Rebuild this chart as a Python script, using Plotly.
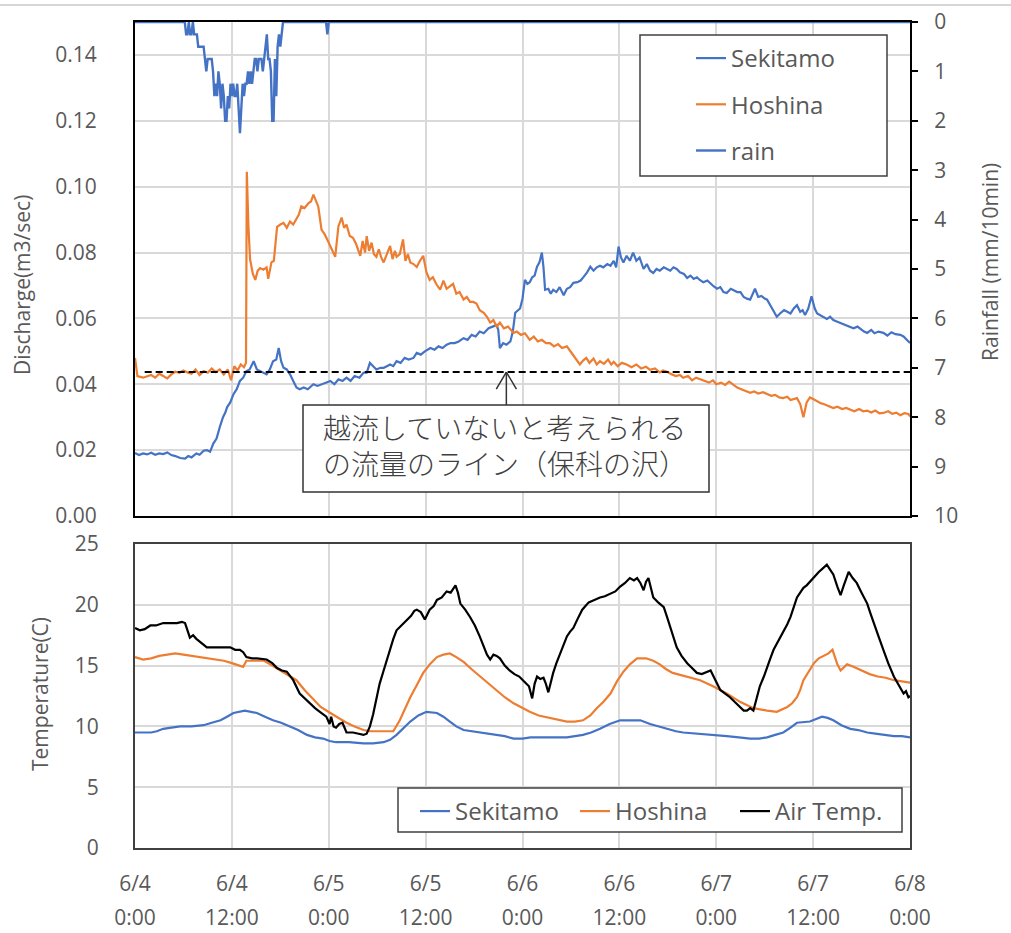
import plotly.graph_objects as go

# ---------------- data (time in hours from 6/4 0:00) ----------------
tick_hours = [0, 12, 24, 36, 48, 60, 72, 84, 96]
tick_dates = ["6/4", "6/4", "6/5", "6/5", "6/6", "6/6", "6/7", "6/7", "6/8"]
tick_times = ["0:00", "12:00", "0:00", "12:00", "0:00", "12:00", "0:00", "12:00", "0:00"]

# rainfall (mm/10min), 10-minute record during the storm
rain_start = 6.167
rain_burst = [0, 0.25, 0.25, 0, 0.25, 0.25, 0, 0.25, 0.25, 0.25, 0.5, 0.5, 0.5, 0.5, 0.5, 0.75, 1.0,
              0.75, 0.75, 0.75, 0.75, 1.0, 1.5, 1.25, 1.5, 1.0, 1.25, 1.75, 1.25, 1.5, 2.0, 2.0, 1.5,
              1.75, 1.25, 1.5, 1.25, 1.5, 1.5, 1.25, 1.75, 2.25, 1.75, 1.25, 1.5, 1.25, 1.25, 1.0, 1.25,
              1.0, 1.25, 1.0, 0.75, 0.75, 1.0, 0.75, 0.75, 0.75, 1.0, 0.75, 0.5, 0.25, 0.75, 0.75, 1.0,
              2.0, 2.0, 0.75, 1.5, 0.5, 0.25, 0.5, 0.25, 0]
rain_extra_hours = [23.667, 23.833, 24.0, 96.0]
rain_extra_vals = [0, 0.25, 0, 0]

sek_q_t = [0.0, 0.5, 1.0, 1.5, 2.0, 2.5, 3.0, 3.5, 4.0, 4.5, 5.0, 5.6, 6.2, 6.6, 7.0, 7.6, 8.0, 8.5, 8.9, 9.3,
           9.7, 10.1, 10.5, 10.9, 11.2, 11.4, 11.8, 12.2, 12.6, 13.0, 13.4, 13.8, 14.2, 14.7, 15.1, 15.5,
           15.9, 16.3, 16.7, 17.1, 17.5, 17.8, 18.1, 18.4, 18.8, 19.2, 19.6, 20.0, 20.4, 20.9, 21.4, 21.8,
           22.1, 22.6, 23.1, 23.6, 24.2, 24.7, 25.2, 25.7, 26.2, 26.7, 27.2, 27.8, 28.3, 28.7, 29.1, 29.5,
           29.9, 30.4, 30.8, 31.2, 31.6, 32.0, 32.4, 32.9, 33.4, 33.9, 34.5, 34.9, 35.4, 35.9, 36.6, 37.1,
           37.6, 38.1, 38.6, 39.1, 39.6, 40.1, 40.7, 41.2, 41.7, 42.2, 42.7, 43.2, 43.8, 44.3, 44.8, 45.0,
           45.2, 45.6, 46.0, 46.5, 46.8, 47.1, 47.5, 47.7, 48.0, 48.3, 48.6, 48.9, 49.2, 49.5, 49.8, 50.1,
           50.4, 50.6, 50.8, 51.2, 51.5, 51.8, 52.2, 52.6, 53.1, 53.5, 53.9, 54.3, 54.8, 55.2, 55.6, 56.0,
           56.4, 56.8, 57.2, 57.6, 58.0, 58.5, 58.9, 59.3, 59.6, 59.9, 60.2, 60.5, 60.9, 61.3, 61.7, 62.1,
           62.5, 63.0, 63.4, 63.8, 64.2, 64.6, 65.0, 65.5, 65.9, 66.3, 66.7, 67.1, 67.5, 68.0, 68.4, 68.8,
           69.2, 69.6, 70.0, 70.4, 70.9, 71.3, 71.7, 72.1, 72.5, 72.9, 73.3, 73.8, 74.2, 74.6, 75.0, 75.4,
           75.8, 76.2, 76.8, 77.2, 77.6, 78.0, 78.3, 78.7, 79.1, 79.5, 79.9, 80.4, 80.8, 81.2, 81.6, 82.0,
           82.4, 82.7, 83.0, 83.4, 83.8, 84.2, 84.5, 84.9, 85.3, 85.7, 86.1, 86.5, 87.0, 87.5, 88.0, 88.6,
           89.0, 89.5, 90.0, 90.3, 90.7, 91.2, 91.6, 92.1, 92.7, 93.2, 93.7, 94.2, 94.8, 95.2, 95.6, 96.0]
sek_q = [0.0191, 0.0185, 0.019, 0.0187, 0.0192, 0.0186, 0.019, 0.0188, 0.0193, 0.0185, 0.0182, 0.0176,
         0.0174, 0.0182, 0.0178, 0.019, 0.0186, 0.0198, 0.020, 0.0195, 0.022, 0.0235, 0.027, 0.030, 0.0315,
         0.033, 0.0345, 0.037, 0.0385, 0.041, 0.042, 0.044, 0.0445, 0.047, 0.0445, 0.044, 0.0435, 0.043,
         0.0445, 0.047, 0.0475, 0.051, 0.047, 0.045, 0.0445, 0.043, 0.041, 0.039, 0.0385, 0.039, 0.0385,
         0.0395, 0.040, 0.0395, 0.040, 0.0405, 0.041, 0.040, 0.0415, 0.041, 0.042, 0.041, 0.0425, 0.042,
         0.0435, 0.0435, 0.0465, 0.0455, 0.0445, 0.045, 0.045, 0.0455, 0.046, 0.0455, 0.047, 0.0465, 0.048,
         0.0475, 0.048, 0.0495, 0.049, 0.050, 0.051, 0.0505, 0.0515, 0.051, 0.052, 0.0525, 0.0525, 0.053,
         0.054, 0.0535, 0.055, 0.0545, 0.056, 0.0555, 0.057, 0.0575, 0.058, 0.0565, 0.051, 0.0525, 0.052,
         0.053, 0.056, 0.0617, 0.0625, 0.063, 0.066, 0.0717, 0.0705, 0.071, 0.0725, 0.073, 0.0757, 0.077,
         0.080, 0.0755, 0.0687, 0.069, 0.0675, 0.0687, 0.068, 0.0695, 0.067, 0.069, 0.0695, 0.0708, 0.071,
         0.0715, 0.0727, 0.074, 0.0757, 0.0745, 0.0755, 0.076, 0.0755, 0.0765, 0.076, 0.0775, 0.0755,
         0.0818, 0.0785, 0.077, 0.079, 0.0775, 0.080, 0.0775, 0.0785, 0.075, 0.0765, 0.0745, 0.0738, 0.075,
         0.0745, 0.0755, 0.075, 0.0745, 0.0755, 0.075, 0.074, 0.0735, 0.0723, 0.073, 0.072, 0.0725, 0.0716,
         0.071, 0.0715, 0.0705, 0.0697, 0.069, 0.0695, 0.068, 0.0677, 0.069, 0.0685, 0.068, 0.068, 0.0665,
         0.066, 0.0657, 0.069, 0.0665, 0.0668, 0.066, 0.0657, 0.064, 0.062, 0.0605, 0.0615, 0.0625, 0.062,
         0.0615, 0.063, 0.064, 0.062, 0.0625, 0.061, 0.063, 0.0667, 0.063, 0.0615, 0.061, 0.0605, 0.0598,
         0.0605, 0.0595, 0.059, 0.0585, 0.058, 0.0575, 0.057, 0.0575, 0.0565, 0.056, 0.0556, 0.0565, 0.0555,
         0.056, 0.0556, 0.0548, 0.0558, 0.0552, 0.055, 0.0545, 0.0535, 0.0525]

hos_q_t = [0.0, 0.3, 1.0, 1.5, 2.0, 2.5, 3.0, 3.5, 4.0, 4.5, 5.0, 5.5, 6.0, 6.5, 7.0, 7.5, 8.0, 8.5, 9.0, 9.5,
           10.0, 10.5, 11.0, 11.5, 11.9, 12.3, 12.7, 13.1, 13.5, 13.75, 13.85, 14.05, 14.25, 14.6, 14.9,
           15.2, 15.5, 15.9, 16.3, 16.5, 16.9, 17.2, 17.6, 18.0, 18.4, 18.8, 19.2, 19.6, 20.0, 20.3, 20.6,
           21.0, 21.5, 21.8, 22.1, 22.4, 22.7, 23.1, 23.5, 23.9, 24.2, 24.5, 24.8, 25.2, 25.6, 25.9, 26.2,
           26.6, 27.0, 27.4, 27.9, 28.2, 28.5, 28.7, 29.0, 29.3, 29.6, 29.9, 30.2, 30.5, 30.8, 31.2, 31.6,
           31.9, 32.2, 32.4, 32.8, 33.2, 33.5, 33.8, 34.1, 34.5, 34.9, 35.3, 35.7, 36.1, 36.5, 36.9, 37.3,
           37.8, 38.2, 38.6, 39.0, 39.4, 39.8, 40.2, 40.7, 41.1, 41.5, 41.9, 42.3, 42.7, 43.2, 43.6, 44.0,
           44.4, 44.8, 45.2, 45.7, 46.2, 46.9, 47.3, 47.8, 48.3, 48.9, 49.4, 49.9, 50.4, 50.9, 51.4, 51.9,
           52.4, 52.9, 53.5, 54.0, 54.6, 55.1, 55.5, 55.9, 56.3, 56.8, 57.2, 57.6, 58.1, 58.6, 59.0, 59.3,
           59.8, 60.3, 60.9, 61.5, 62.1, 62.7, 63.3, 63.8, 64.4, 65.0, 65.4, 65.9, 66.5, 67.0, 67.5, 67.9,
           68.5, 69.0, 69.5, 70.0, 70.6, 71.1, 71.6, 72.0, 72.6, 73.1, 73.6, 74.1, 74.6, 75.1, 75.6, 76.2,
           76.7, 77.2, 77.8, 78.3, 78.8, 79.3, 79.8, 80.3, 80.8, 81.2, 81.6, 82.0, 82.4, 82.8, 83.2, 83.6,
           84.0, 84.5, 85.0, 85.3, 85.8, 86.5, 87.0, 87.6, 88.1, 88.6, 89.1, 89.7, 90.2, 90.7, 91.2, 91.7,
           92.2, 92.7, 93.3, 93.8, 94.3, 94.8, 95.3, 95.8, 96.0]
hos_q = [0.048, 0.0425, 0.042, 0.0425, 0.0428, 0.042, 0.0432, 0.0425, 0.0418, 0.043, 0.0438, 0.0435, 0.0442,
         0.0436, 0.0432, 0.0445, 0.0428, 0.044, 0.0435, 0.0448, 0.0437, 0.0445, 0.043, 0.0445, 0.0412,
         0.0455, 0.0442, 0.046, 0.0452, 0.0465, 0.1045, 0.088, 0.078, 0.0735, 0.0717, 0.0745, 0.0753,
         0.0748, 0.0755, 0.072, 0.077, 0.0775, 0.0878, 0.0885, 0.089, 0.0875, 0.0894, 0.0885, 0.090, 0.0915,
         0.094, 0.0935, 0.095, 0.0955, 0.0976, 0.0955, 0.094, 0.087, 0.0855, 0.0835, 0.0818, 0.0805, 0.0787,
         0.088, 0.0906, 0.0875, 0.0885, 0.085, 0.0845, 0.0825, 0.079, 0.0835, 0.080, 0.085, 0.0805, 0.083,
         0.0795, 0.0787, 0.081, 0.0785, 0.077, 0.0795, 0.082, 0.078, 0.0805, 0.0787, 0.0795, 0.084, 0.0775,
         0.0795, 0.077, 0.0765, 0.0756, 0.0775, 0.079, 0.074, 0.0717, 0.0725, 0.0705, 0.0687, 0.0715, 0.069,
         0.0697, 0.0705, 0.0675, 0.068, 0.0657, 0.0665, 0.065, 0.065, 0.0645, 0.0625, 0.0617, 0.0605, 0.0587,
         0.0595, 0.0575, 0.0587, 0.057, 0.0575, 0.0556, 0.056, 0.055, 0.0555, 0.0535, 0.0545, 0.053, 0.0535,
         0.0525, 0.0525, 0.0515, 0.0522, 0.051, 0.0515, 0.0498, 0.0475, 0.046, 0.0472, 0.048, 0.0465, 0.0478,
         0.046, 0.047, 0.0462, 0.0475, 0.046, 0.0468, 0.0455, 0.0465, 0.046, 0.0452, 0.046, 0.0448, 0.0453,
         0.0444, 0.0448, 0.0436, 0.0442, 0.0438, 0.043, 0.0425, 0.0428, 0.042, 0.0425, 0.0412, 0.042, 0.0416,
         0.041, 0.0405, 0.0412, 0.040, 0.0405, 0.0398, 0.0408, 0.040, 0.039, 0.0385, 0.038, 0.0374, 0.0378,
         0.0372, 0.0376, 0.037, 0.0365, 0.0368, 0.036, 0.0358, 0.0362, 0.0352, 0.0355, 0.0358, 0.034, 0.030,
         0.0345, 0.036, 0.0355, 0.0348, 0.0342, 0.034, 0.0335, 0.0328, 0.0332, 0.0325, 0.0328, 0.0323,
         0.0318, 0.0325, 0.0318, 0.032, 0.0314, 0.032, 0.0312, 0.0313, 0.0318, 0.031, 0.0314, 0.0306,
         0.0312, 0.031, 0.0302]

threshold_q = 0.0437
threshold_span = [1.2, 96.0]

air_t_t = [0.0, 0.6, 1.2, 1.9, 2.6, 3.5, 4.5, 5.2, 5.8, 6.2, 6.8, 7.2, 7.6, 8.1, 8.9, 10.0, 11.0, 11.8, 12.4,
           13.0, 13.4, 13.8, 14.5, 15.1, 16.3, 17.0, 17.6, 18.2, 18.8, 19.6, 20.4, 21.0, 21.7, 22.3, 22.9,
           23.3, 23.7, 24.1, 24.3, 24.6, 24.9, 25.3, 25.7, 26.2, 27.0, 27.7, 28.3, 28.7, 29.1, 29.5, 29.9,
           30.3, 30.8, 31.2, 31.6, 32.0, 32.4, 33.0, 33.7, 34.2, 34.6, 34.9, 35.4, 35.9, 36.5, 37.0, 37.4,
           38.0, 38.6, 39.1, 39.7, 40.0, 40.3, 40.9, 41.5, 42.1, 42.7, 43.2, 43.6, 44.0, 44.4, 44.8, 45.2,
           45.8, 46.4, 47.0, 47.6, 48.2, 48.8, 49.2, 49.5, 49.8, 50.2, 50.6, 50.9, 51.2, 51.5, 51.8, 52.2,
           52.7, 53.1, 53.5, 53.9, 54.3, 54.8, 55.4, 55.8, 56.2, 56.9, 57.6, 58.2, 58.9, 59.5, 60.1, 60.7,
           61.3, 61.8, 62.2, 62.6, 63.0, 63.3, 63.6, 63.9, 64.2, 64.8, 65.5, 65.9, 66.3, 66.7, 67.1, 67.7,
           68.4, 69.0, 69.6, 70.2, 70.8, 71.3, 71.9, 72.5, 73.1, 73.7, 74.3, 75.0, 75.4, 75.8, 76.2, 76.6,
           77.0, 77.4, 77.9, 78.3, 78.7, 79.1, 79.7, 80.3, 80.8, 81.2, 81.6, 82.0, 82.4, 82.8, 83.2, 83.6,
           84.2, 84.7, 85.2, 85.7, 86.1, 86.5, 87.0, 87.4, 87.8, 88.4, 88.9, 89.4, 90.0, 90.7, 91.1, 91.5,
           92.1, 92.7, 93.3, 94.0, 94.6, 95.2, 95.5, 95.8, 96.0]
air_t = [18.1, 17.9, 18.0, 18.3, 18.3, 18.5, 18.5, 18.5, 18.6, 18.5, 17.3, 17.5, 17.2, 16.9, 16.5, 16.5,
         16.5, 16.5, 16.3, 16.3, 16.1, 15.7, 15.6, 15.6, 15.5, 15.2, 14.8, 14.6, 14.5, 13.8, 12.7, 12.3,
         11.9, 11.5, 11.2, 11.0, 10.8, 10.2, 10.8, 10.0, 9.9, 10.2, 10.3, 9.5, 9.5, 9.4, 9.3, 9.4, 10.0,
         11.0, 12.2, 13.5, 14.6, 15.5, 16.3, 17.2, 17.9, 18.3, 18.8, 19.1, 19.5, 19.6, 19.4, 18.8, 19.6,
         19.9, 20.4, 20.6, 21.1, 21.0, 21.6, 21.0, 20.1, 19.6, 19.0, 18.3, 17.4, 16.6, 15.9, 15.5, 15.9,
         15.8, 15.6, 15.0, 14.6, 14.3, 14.1, 13.7, 13.3, 12.3, 13.5, 14.1, 13.9, 14.0, 13.5, 12.8, 13.6,
         14.4, 15.2, 16.0, 16.8, 17.4, 17.8, 18.1, 18.8, 19.6, 19.9, 20.2, 20.4, 20.6, 20.7, 20.9, 21.1,
         21.5, 21.8, 22.2, 22.0, 22.2, 21.8, 21.2, 21.9, 22.2, 21.4, 20.6, 20.2, 19.8, 19.0, 18.2, 17.4,
         16.5, 15.8, 15.2, 14.8, 14.4, 14.3, 14.5, 14.6, 13.8, 13.0, 12.7, 12.4, 12.0, 11.6, 11.3, 11.3,
         11.5, 11.3, 12.2, 13.3, 14.1, 14.9, 15.6, 16.3, 17.0, 17.7, 18.4, 19.0, 19.8, 20.6, 21.0, 21.4,
         21.6, 21.9, 22.3, 22.7, 23.0, 23.3, 22.9, 22.5, 21.5, 20.8, 21.6, 22.7, 22.2, 21.8, 21.0, 20.1,
         19.3, 18.5, 17.4, 16.3, 15.2, 14.1, 13.4, 12.7, 12.9, 12.4, 12.5]

hos_t_t = [0, 1, 2, 3, 4, 5, 6, 7, 8, 9, 10, 11, 12, 12.8, 13.4, 13.8, 15, 16, 17, 18, 19, 20, 21, 22.1, 23,
           24.2, 25.2, 26.2, 27.2, 28.3, 29.1, 30, 31, 32, 32.8, 33.5, 34.1, 35, 35.7, 36.5, 37.4, 38.2, 39,
           39.8, 40.7, 41.7, 42.8, 43.8, 44.8, 45.8, 46.9, 48, 48.9, 50, 51.4, 52.5, 53.5, 54.5, 55.5, 56.4,
           57.2, 58, 58.9, 59.7, 60.5, 61.3, 62.2, 63.3, 64.2, 65, 65.8, 66.6, 68.3, 70, 71.6, 73.3, 75, 76.6,
           78.3, 79.5, 80.8, 81.4, 82, 82.4, 82.8, 83.5, 84.1, 84.7, 85.3, 85.9, 86.4, 86.8, 87.0, 87.4, 88.2,
           89.0, 89.9, 91, 92, 93, 94, 95, 96]
hos_t = [15.7, 15.5, 15.6, 15.8, 15.9, 16.0, 15.9, 15.8, 15.7, 15.6, 15.5, 15.4, 15.2, 15.0, 14.9, 15.4,
         15.4, 15.4, 15.0, 14.6, 14.2, 13.8, 13.0, 12.2, 11.6, 11.1, 10.7, 10.3, 10.0, 9.7, 9.6, 9.6, 9.6,
         9.6, 10.5, 11.5, 12.4, 13.5, 14.4, 15.1, 15.7, 15.9, 16.0, 15.7, 15.3, 14.7, 14.1, 13.5, 13.0, 12.4,
         11.9, 11.5, 11.2, 10.9, 10.7, 10.5, 10.4, 10.4, 10.5, 10.9, 11.5, 12.0, 12.7, 13.7, 14.5, 15.1,
         15.6, 15.6, 15.4, 15.1, 14.7, 14.4, 14.1, 13.8, 13.3, 12.7, 12.0, 11.5, 11.3, 11.2, 11.6, 11.9,
         12.4, 13.0, 13.8, 14.6, 15.2, 15.6, 15.8, 16.0, 16.3, 15.6, 15.1, 14.6, 15.1, 14.9, 14.6, 14.3,
         14.1, 14.0, 13.8, 13.7, 13.6]

sek_t_t = [0, 1, 2, 2.7, 3.5, 4.5, 5.6, 7, 8.5, 9.5, 10.6, 11.4, 12.2, 13.6, 14.4, 15.1, 16.1, 17.1, 18.1,
           19.2, 20.2, 21.3, 22.3, 23.3, 24.1, 24.9, 26.5, 28.3, 29.5, 30.8, 31.6, 32.4, 33.2, 34.1, 35.1,
           36.1, 37.4, 38.2, 39, 39.8, 40.7, 41.7, 42.7, 43.8, 44.8, 45.8, 46.9, 48, 49, 51, 53.5, 54.5,
           55.5, 56.5, 57.6, 58.8, 60.1, 61.5, 62.6, 63.8, 64.8, 65.9, 67, 67.9, 70, 71.6, 73.3, 74.8, 76.2,
           77.3, 78.3, 79.3, 80.3, 81.2, 82, 83.6, 84.4, 85.1, 85.8, 86.5, 87.5, 88.6, 89.6, 90.7, 91.7,
           92.7, 94, 95, 95.8, 96]
sek_t = [9.5, 9.5, 9.5, 9.6, 9.8, 9.9, 10.0, 10.0, 10.1, 10.3, 10.5, 10.8, 11.1, 11.3, 11.2, 11.1, 10.8,
         10.5, 10.3, 10.0, 9.7, 9.3, 9.1, 9.0, 8.8, 8.7, 8.7, 8.6, 8.6, 8.7, 8.9, 9.3, 9.8, 10.4, 10.9,
         11.2, 11.1, 10.8, 10.4, 10.0, 9.7, 9.6, 9.5, 9.4, 9.3, 9.2, 9.0, 9.0, 9.1, 9.1, 9.1, 9.2, 9.3, 9.5,
         9.8, 10.2, 10.5, 10.5, 10.5, 10.2, 10.0, 9.8, 9.6, 9.5, 9.4, 9.3, 9.2, 9.1, 9.0, 9.0, 9.1, 9.3,
         9.5, 9.9, 10.3, 10.4, 10.6, 10.8, 10.7, 10.5, 10.1, 9.8, 9.7, 9.5, 9.4, 9.3, 9.2, 9.2, 9.1, 9.1]

note_text = "越流していないと考えられる<br>の流量のライン（保科の沢）"

# ---------------- layout helpers ----------------
W, H = 1011, 933
L, R, T, B = 135, 910, 22, 848


def px_x(x):
    return (x - L) / (R - L)


def px_y(y):
    return (B - y) / (B - T)


BLUE = "#4472C4"
ORANGE = "#ED7D31"
GRID = "#d9d9d9"
TXT = "#595959"
FONT = "Open Sans"

rain_hours = [0.0] + [rain_start + i / 6 for i in range(len(rain_burst))] + rain_extra_hours
rain_vals = [0] + rain_burst + rain_extra_vals

fig = go.Figure()
fig.add_trace(go.Scatter(x=sek_q_t, y=sek_q, name="Sekitamo", mode="lines",
                         line=dict(color=BLUE, width=2.2), xaxis="x", yaxis="y",
                         legend="legend", legendgroup="a"))
fig.add_trace(go.Scatter(x=hos_q_t, y=hos_q, name="Hoshina", mode="lines",
                         line=dict(color=ORANGE, width=2.2), xaxis="x", yaxis="y",
                         legend="legend", legendgroup="b"))
fig.add_trace(go.Scatter(x=threshold_span, y=[threshold_q, threshold_q], mode="lines", showlegend=False,
                         line=dict(color="black", width=2, dash="7px,4px"), xaxis="x", yaxis="y"))
fig.add_trace(go.Scatter(x=rain_hours, y=rain_vals, name="rain", mode="lines",
                         line=dict(color=BLUE, width=2.4), xaxis="x", yaxis="y3",
                         legend="legend", legendgroup="c"))

fig.add_trace(go.Scatter(x=sek_t_t, y=sek_t, name="Sekitamo", mode="lines",
                         line=dict(color=BLUE, width=2.2), xaxis="x2", yaxis="y2", legend="legend2"))
fig.add_trace(go.Scatter(x=hos_t_t, y=hos_t, name="Hoshina", mode="lines",
                         line=dict(color=ORANGE, width=2.2), xaxis="x2", yaxis="y2", legend="legend2"))
fig.add_trace(go.Scatter(x=air_t_t, y=air_t, name="Air Temp.", mode="lines",
                         line=dict(color="black", width=2.2), xaxis="x2", yaxis="y2", legend="legend2"))
# an empty trace so that the second tick-label row (xaxis3) is drawn
fig.add_trace(go.Scatter(x=[0, 96], y=[None, None], xaxis="x3", yaxis="y2", showlegend=False,
                         hoverinfo="skip"))

tickfont = dict(family=FONT, size=21, color=TXT)
common_x = dict(range=[0, 96], tickvals=tick_hours, showgrid=True, gridcolor=GRID, gridwidth=1.5,
                zeroline=False, showline=True, linewidth=2, mirror=True, ticks="", automargin=False)

fig.update_layout(
    width=W, height=H, autosize=False,
    margin=dict(l=L, r=W - R, t=T, b=H - B, autoexpand=False),
    paper_bgcolor="white", plot_bgcolor="white",
    font=dict(family=FONT, color=TXT),
    xaxis=dict(common_x, domain=[0, 1], anchor="y", showticklabels=False, linecolor="black"),
    yaxis=dict(domain=[px_y(516), 1], range=[0, 0.15], tick0=0, dtick=0.02, tickformat=".2f",
               showgrid=True, gridcolor=GRID, gridwidth=1.5, zeroline=False, showline=True,
               linecolor="black", linewidth=2, ticks="", tickfont=tickfont, ticklabelstandoff=32,
               automargin=False),
    yaxis3=dict(overlaying="y", side="right", anchor="x", range=[10, 0], tick0=0, dtick=1,
                showgrid=False, zeroline=False, showline=True, linecolor="black", linewidth=2,
                ticks="outside", ticklen=6, tickcolor="black", tickwidth=1.5, tickfont=tickfont,
                ticklabelstandoff=12, automargin=False),
    xaxis2=dict(common_x, domain=[0, 1], anchor="y2", ticktext=tick_dates, tickfont=tickfont,
                linecolor="#404040", ticklabelstandoff=16),
    xaxis3=dict(overlaying="x2", anchor="y2", side="bottom", range=[0, 96], tickvals=tick_hours,
                ticktext=tick_times, tickfont=tickfont, showgrid=False, zeroline=False, showline=False,
                ticks="", ticklabelstandoff=55, automargin=False),
    yaxis2=dict(domain=[0, px_y(544)], range=[0, 25], tick0=0, dtick=5, showgrid=True, gridcolor=GRID,
                gridwidth=1.5, zeroline=False, showline=True, linecolor="#404040", linewidth=2,
                mirror=True, ticks="", tickfont=tickfont, ticklabelstandoff=30, automargin=False),
    legend=dict(x=px_x(691), y=px_y(36), xanchor="left", yanchor="top", bgcolor="rgba(0,0,0,0)",
                borderwidth=0, font=dict(family=FONT, size=24, color=TXT), tracegroupgap=12,
                traceorder="grouped"),
    legend2=dict(x=px_x(415), y=px_y(789), xanchor="left", yanchor="top", orientation="h",
                 entrywidth=115, entrywidthmode="pixels",
                 bgcolor="rgba(0,0,0,0)", borderwidth=0, font=dict(family=FONT, size=24, color=TXT)),
)

shapes = [
    dict(type="line", xref="paper", yref="paper", x0=px_x(0), x1=px_x(W), y0=px_y(5), y1=px_y(5),
         line=dict(color="#c8c8c8", width=1.5)),
    dict(type="rect", xref="paper", yref="paper", x0=px_x(640), x1=px_x(887), y0=px_y(176), y1=px_y(35),
         line=dict(color="#404040", width=1.5), fillcolor="white", layer="above"),
    dict(type="rect", xref="paper", yref="paper", x0=px_x(398), x1=px_x(902), y0=px_y(832), y1=px_y(788),
         line=dict(color="#404040", width=1.5), fillcolor="white", layer="above"),
    dict(type="rect", xref="paper", yref="paper", x0=px_x(303), x1=px_x(709), y0=px_y(492), y1=px_y(405),
         line=dict(color="#333333", width=1.5), fillcolor="white", layer="above"),
]
arrow_hour = 46.0
box_top_q = 0.0337
shapes += [
    dict(type="line", xref="x", yref="y", x0=arrow_hour, x1=arrow_hour, y0=box_top_q, y1=threshold_q,
         line=dict(color="#333333", width=1.5), layer="above"),
    dict(type="line", xref="x", yref="y", x0=arrow_hour - 1.25, x1=arrow_hour, y0=threshold_q - 0.0052,
         y1=threshold_q, line=dict(color="#333333", width=1.5), layer="above"),
    dict(type="line", xref="x", yref="y", x0=arrow_hour + 1.25, x1=arrow_hour, y0=threshold_q - 0.0052,
         y1=threshold_q, line=dict(color="#333333", width=1.5), layer="above"),
]
fig.update_layout(shapes=shapes)

title_font = dict(family=FONT, size=21, color=TXT)
fig.update_layout(annotations=[
    dict(text=note_text, xref="paper", yref="paper", x=px_x(505), y=px_y(445), xanchor="center",
         yanchor="middle", showarrow=False, align="left",
         font=dict(family="Noto Sans CJK JP", size=28, color="#404040", weight=300)),
    dict(text="Discharge(m3/sec)", xref="paper", yref="paper", x=px_x(22), y=px_y(285), textangle=-90,
         showarrow=False, xanchor="center", yanchor="middle", font=title_font),
    dict(text="Rainfall (mm/10min)", xref="paper", yref="paper", x=px_x(990), y=px_y(262), textangle=-90,
         showarrow=False, xanchor="center", yanchor="middle", font=title_font),
    dict(text="Temperature(C)", xref="paper", yref="paper", x=px_x(40), y=px_y(694), textangle=-90,
         showarrow=False, xanchor="center", yanchor="middle", font=title_font),
])

fig.write_html("out.html")
